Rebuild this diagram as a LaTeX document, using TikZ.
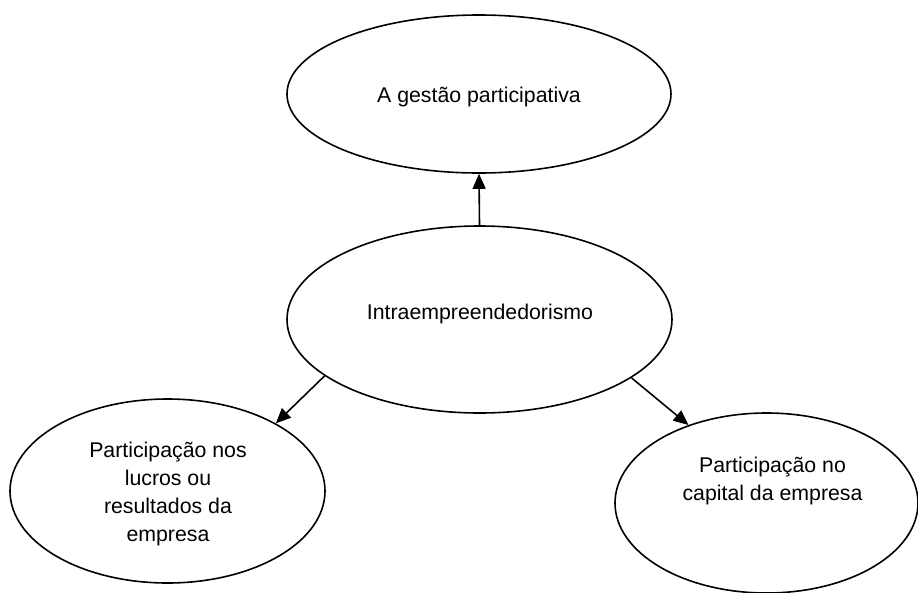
\documentclass[tikz,border=0pt]{standalone}
\usepackage{fontspec}
\setmainfont{Liberation Sans}
\usetikzlibrary{shapes.geometric,arrows.meta}
\begin{document}
\begin{tikzpicture}[x=1pt,y=-1pt,
  bubble/.style={draw=black,line width=1.6pt,ellipse,inner sep=0pt},
  caption/.style={inner sep=0pt,align=center,font=\fontsize{21.3}{28.3}\selectfont},
  link/.style={line width=1.6pt,-{Triangle[length=15pt,width=13pt]}}]
\useasboundingbox (0,0) rectangle (918,592);
\clip (0,0) rectangle (918,592);
% ellipses
\node[bubble,minimum width=384pt,minimum height=158pt] (gestao) at (479,94) {};
\node[bubble,minimum width=385pt,minimum height=187pt] (intra) at (479.5,319.5) {};
\node[bubble,minimum width=315pt,minimum height=184pt] (lucros) at (167.5,491) {};
\node[bubble,minimum width=303pt,minimum height=180pt] (capital) at (766.5,503) {};
% texts
\node[caption] (tgestao) at (479,96.5) {A gestão participativa};
\node[caption] (tintra) at (480,313.5) {Intraempreendedorismo};
\node[caption] (tlucros) at (168,494) {Participação nos\\lucros ou\\resultados da\\empresa};
\node[caption] (tcapital) at (772.5,481) {Participação no\\capital da empresa};
% connectors
\draw[link] (intra.north) -- (gestao.south);
\draw[link] (intra.200) -- (lucros.32);
\draw[link] (intra.339) -- (capital.135.6);
\end{tikzpicture}
\end{document}
